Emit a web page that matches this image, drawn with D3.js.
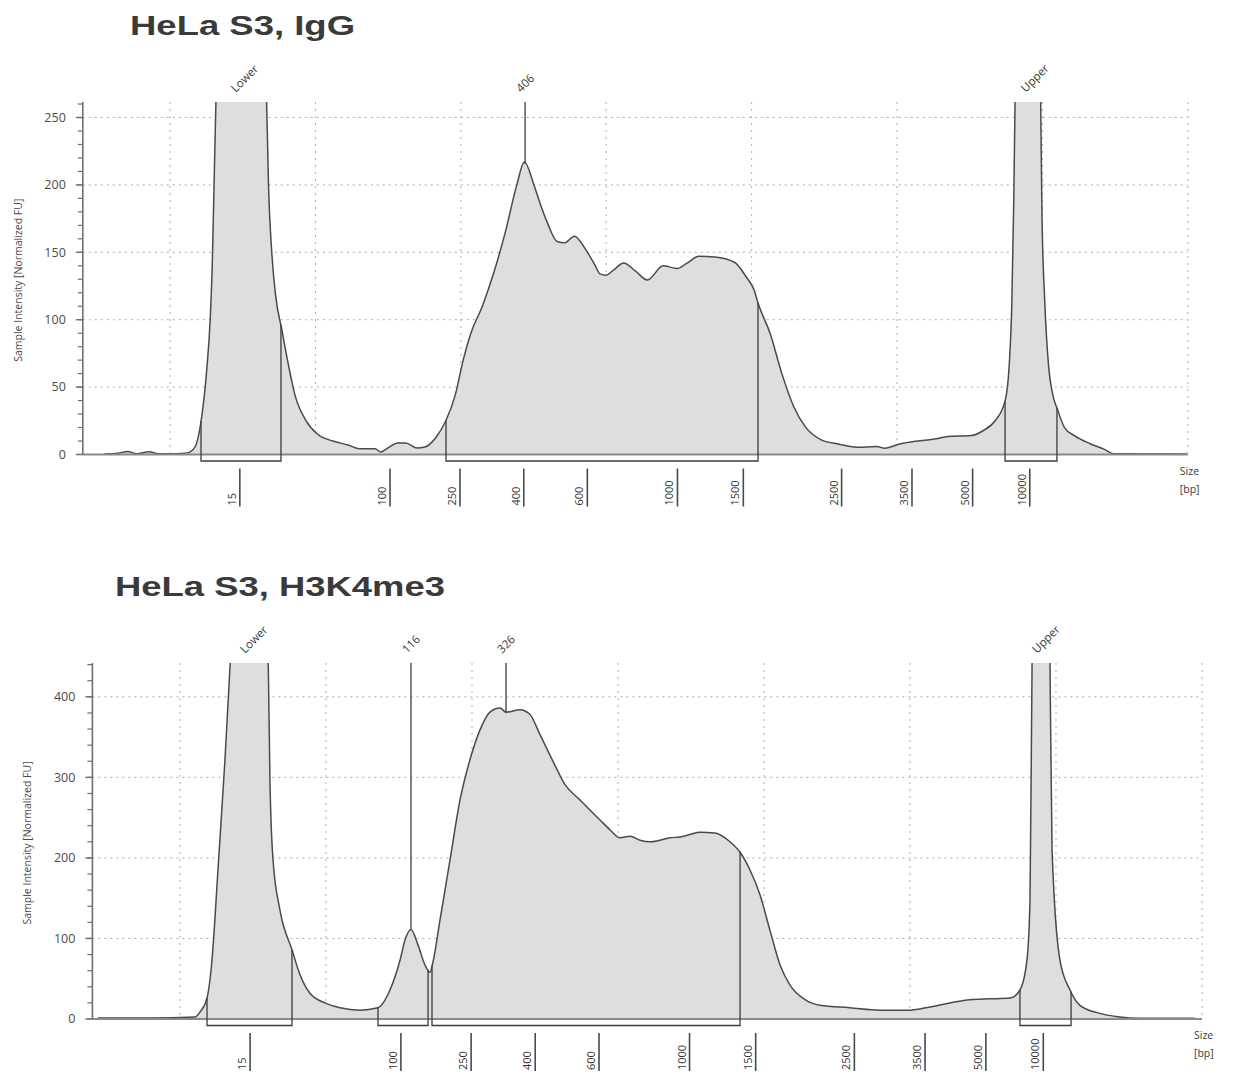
<!DOCTYPE html>
<html><head><meta charset="utf-8">
<script src="https://cdn.jsdelivr.net/npm/d3@7"></script>
<style>body{margin:0;background:#fff} svg{display:block}</style>
</head><body>
<svg id="c" width="1233" height="1074"></svg>
<script>
// Ladder (size standard) in bp and its migration position (run units)
const ladderSizes = [15, 100, 250, 400, 600, 1000, 1500, 2500, 3500, 5000, 10000];
const ladderMigration = [4.8, 15.13, 19.94, 24.33, 28.7, 34.9, 39.43, 46.19, 51.03, 55.2, 59.13];
const gridMigration = [0, 10, 20, 30, 40, 50, 60, 70];

// HeLa S3, IgG trace: [migration, intensity FU]
const iggTrace = [[-4.5,0.5],[-3.6,1],[-2.9,2.2],[-2.3,0.6],[-1.44,2],[-0.8,0.6],[0.4,0.6],[1.19,1.2],[1.71,5.5],[2.11,23],[2.5,60],[2.77,102],[2.9,139],[3.03,201],[3.16,263],[4.9,600],[6.64,263],[6.77,201],[6.99,151],[7.25,119],[7.7,92],[8.17,65],[8.57,45],[9.36,25],[10.15,15],[11.2,10],[12.25,7],[13.04,4.2],[14.1,4.2],[14.5,1.8],[14.89,4.2],[15.68,8.5],[16.21,8.5],[17.0,4.8],[17.52,5.5],[18.31,13],[18.97,25],[19.64,45],[20.16,70],[20.69,90],[21.48,110],[22.27,135],[23.06,165],[23.85,200],[24.37,217],[25.03,200],[25.43,187],[25.95,172],[26.62,158],[27.14,157],[27.81,162],[28.59,152],[29.25,140],[29.57,134],[29.98,133],[30.52,137],[31.2,142],[32.02,136],[32.83,129.5],[33.92,140],[34.88,138],[35.56,142],[36.37,147],[37.46,146.5],[38.82,142.6],[39.63,131.7],[40.18,121.8],[40.45,112],[41.27,90],[42.08,60],[42.9,35.4],[43.71,20.3],[44.79,10.9],[45.89,7.9],[47.24,5.4],[48.6,5.9],[49.15,4.7],[50.23,7.9],[51.32,9.9],[52.68,11.6],[53.49,13.4],[55.12,14.1],[55.94,17.8],[56.76,25.2],[57.44,40],[57.71,65],[57.9,114],[58.03,189],[58.12,263],[59.0,700],[59.88,263],[59.97,178],[60.16,114],[60.43,65],[60.7,45],[61.05,33],[61.52,20],[62.2,14],[63.28,8],[64.23,4],[64.91,0.5],[69.94,0.3]];
const iggRegions = [[2.13, 7.63], [18.98, 40.44], [57.43, 61.0]];
const iggPeakLabels = ["Lower", "406", "Upper"];
const iggPeakMigration = [4.8, 24.42, 59.13];
const iggPeakLine = [false, true, false];
const iggYTicks = [0, 50, 100, 150, 200, 250];

// HeLa S3, H3K4me3 trace
const h3Trace = [[-5.62,1.2],[-2.05,1.2],[1.03,2.5],[1.37,8.7],[1.85,26],[2.19,73],[2.6,185],[3.08,322],[3.49,460],[4.73,900],[6.03,460],[6.16,297],[6.37,198],[6.85,135],[7.67,86],[8.22,55],[8.9,32],[9.93,20],[10.96,14],[12.33,11],[13.56,14],[14.38,36],[15.07,73],[15.41,98],[15.82,111],[16.3,92],[16.78,67],[17.12,58],[17.33,71],[17.81,123],[18.49,197],[19.18,272],[19.86,322],[20.55,359],[21.23,381],[21.92,386],[22.33,381],[23.29,384],[23.97,378],[24.66,353],[25.68,315],[26.37,291],[27.4,272],[28.77,247],[29.45,235],[30.14,225],[30.82,227],[31.51,222],[32.19,220],[32.88,222],[33.56,225],[34.25,226],[34.93,229],[35.62,232],[36.64,231],[37.67,220],[38.36,207],[39.04,185],[39.73,154],[40.41,110],[41.1,67],[41.78,42],[42.81,24],[43.84,17],[45.89,14],[47.95,11],[50.0,11],[51.37,15],[52.74,20],[54.11,24],[55.48,25],[56.85,26],[57.53,36],[58.01,73],[58.22,148],[58.36,440],[58.97,900],[59.59,440],[59.73,210],[60.27,73],[60.96,36],[61.64,17],[63.01,7],[64.38,2.5],[65.75,1],[69.5,1]];
const h3Regions = [[1.85, 7.67], [13.56, 16.99], [17.26, 38.36], [57.53, 61.03]];
const h3PeakLabels = ["Lower", "116", "326", "Upper"];
const h3PeakMigration = [4.73, 15.82, 22.33, 58.97];
const h3PeakLine = [false, true, true, false];
const h3YTicks = [0, 100, 200, 300, 400];

const panels = [
  {title: "HeLa S3, IgG", titleX: 130, titleY: 35, titleW: 225,
   left: 82.8, right: 1187.8, zeroY: 454.5, topY: 102, yMax: 261.5, minorStep: 10,
   trace: iggTrace, regions: iggRegions, labels: iggPeakLabels, peaks: iggPeakMigration, lines: iggPeakLine,
   yTicks: iggYTicks, axTitleX: 18},
  {title: "HeLa S3, H3K4me3", titleX: 115, titleY: 596, titleW: 330,
   left: 92.4, right: 1202, zeroY: 1019, topY: 663, yMax: 442, minorStep: 20,
   trace: h3Trace, regions: h3Regions, labels: h3PeakLabels, peaks: h3PeakMigration, lines: h3PeakLine,
   yTicks: h3YTicks, axTitleX: 27}
];

const svg = d3.select("#c");
const FONT = "'Open Sans', 'DejaVu Sans', sans-serif";

function valueAt(trace, m) {
  const i = d3.bisector(d => d[0]).left(trace, m);
  if (i <= 0) return trace[0][1];
  if (i >= trace.length) return trace[trace.length - 1][1];
  const a = trace[i - 1], b = trace[i];
  return a[1] + (b[1] - a[1]) * (m - a[0]) / (b[0] - a[0]);
}

panels.forEach((p, idx) => {
  const x = d3.scaleLinear().domain([-6, 70]).range([p.left, p.right]);
  const y = d3.scaleLinear().domain([0, p.yMax]).range([p.zeroY, p.topY]);
  const g = svg.append("g");

  // title
  g.append("text").attr("x", p.titleX).attr("y", p.titleY)
    .attr("font-family", "'Liberation Sans', Arial, sans-serif").attr("font-weight", "bold")
    .attr("font-size", 28).attr("fill", "#3a3a3a")
    .attr("textLength", p.titleW).attr("lengthAdjust", "spacingAndGlyphs")
    .text(p.title);

  // horizontal grid
  g.selectAll(".hg").data(p.yTicks.filter(d => d > 0)).join("line")
    .attr("x1", p.left).attr("x2", p.right).attr("y1", d => y(d)).attr("y2", d => y(d))
    .attr("stroke", "#adadad").attr("stroke-width", 1).attr("stroke-dasharray", "2,4");
  // vertical grid
  g.selectAll(".vg").data(gridMigration).join("line")
    .attr("x1", d => x(d)).attr("x2", d => x(d)).attr("y1", p.topY).attr("y2", p.zeroY)
    .attr("stroke", "#adadad").attr("stroke-width", 1).attr("stroke-dasharray", "2,5");

  // clip
  const cid = "clip" + idx;
  svg.append("clipPath").attr("id", cid).append("rect")
    .attr("x", p.left).attr("y", p.topY).attr("width", p.right - p.left).attr("height", p.zeroY - p.topY + 1);

  const area = d3.area().x(d => x(d[0])).y0(y(0)).y1(d => y(d[1])).curve(d3.curveMonotoneX);
  const line = d3.line().x(d => x(d[0])).y(d => y(d[1])).curve(d3.curveMonotoneX);
  const pg = g.append("g").attr("clip-path", `url(#${cid})`);
  pg.append("path").datum(p.trace).attr("d", area).attr("fill", "#dedede");

  // x baseline
  g.append("line").attr("x1", p.left).attr("x2", p.right).attr("y1", y(0)).attr("y2", y(0))
    .attr("stroke", "#8a8a8a").attr("stroke-width", 2);

  pg.append("path").datum(p.trace).attr("d", line).attr("fill", "none")
    .attr("stroke", "#4a4a4a").attr("stroke-width", 1.5);

  // region boxes
  const boxBottom = y(0) + 6.5;
  g.selectAll(".rb").data(p.regions).join("path")
    .attr("d", r => `M${x(r[0])},${y(Math.min(valueAt(p.trace, r[0]), p.yMax))}V${boxBottom}H${x(r[1])}V${y(Math.min(valueAt(p.trace, r[1]), p.yMax))}`)
    .attr("fill", "none").attr("stroke", "#3c3c3c").attr("stroke-width", 1.3);

  // peak lines
  p.peaks.forEach((m, i) => {
    if (p.lines[i]) {
      g.append("line").attr("x1", x(m)).attr("x2", x(m))
        .attr("y1", y(valueAt(p.trace, m))).attr("y2", p.topY)
        .attr("stroke", "#3c3c3c").attr("stroke-width", 1.3);
    }
    g.append("text")
      .attr("transform", `translate(${x(m) - 4},${p.topY - 9}) rotate(-45)`)
      .attr("font-family", FONT).attr("font-size", 11.5).attr("fill", "#3a3a3a")
      .text(p.labels[i]);
  });

  // y axis
  g.append("line").attr("x1", p.left).attr("x2", p.left).attr("y1", p.topY).attr("y2", y(0))
    .attr("stroke", "#707070").attr("stroke-width", 1.6);
  const minor = d3.range(0, p.yMax, p.minorStep);
  g.selectAll(".mt").data(minor).join("line")
    .attr("x1", p.left - 5).attr("x2", p.left).attr("y1", d => y(d)).attr("y2", d => y(d))
    .attr("stroke", "#707070").attr("stroke-width", 1.2);
  g.selectAll(".Mt").data(p.yTicks).join("line")
    .attr("x1", p.left - 7).attr("x2", p.left).attr("y1", d => y(d)).attr("y2", d => y(d))
    .attr("stroke", "#707070").attr("stroke-width", 1.4);
  g.selectAll(".yl").data(p.yTicks).join("text")
    .attr("x", p.left - 17).attr("y", d => y(d)).attr("dy", "0.35em")
    .attr("text-anchor", "end").attr("font-family", FONT).attr("font-size", 12.5).attr("fill", "#4a4a4a")
    .text(d => d);
  g.append("text")
    .attr("transform", `translate(${p.axTitleX},${(p.topY + p.zeroY) / 2 + 2}) rotate(-90)`)
    .attr("text-anchor", "middle").attr("dy", "0.35em")
    .attr("font-family", FONT).attr("font-size", 10.5).attr("fill", "#4a4a4a")
    .text("Sample Intensity [Normalized FU]");

  // ladder size labels
  const lTop = y(0) + 14, lBot = y(0) + 52;
  ladderSizes.forEach((s, i) => {
    const lx = x(ladderMigration[i]);
    g.append("line").attr("x1", lx).attr("x2", lx).attr("y1", lTop).attr("y2", lBot)
      .attr("stroke", "#4a4a4a").attr("stroke-width", 1.6);
    g.append("text")
      .attr("transform", `translate(${lx - 4},${lBot - 1}) rotate(-90)`)
      .attr("font-family", FONT).attr("font-size", 11).attr("fill", "#333")
      .text(s);
  });
  g.append("text").attr("x", p.right - 8).attr("y", y(0) + 20)
    .attr("font-family", FONT).attr("font-size", 10.5).attr("fill", "#3a3a3a").text("Size");
  g.append("text").attr("x", p.right - 8).attr("y", y(0) + 38)
    .attr("font-family", FONT).attr("font-size", 10.5).attr("fill", "#3a3a3a").text("[bp]");
});
</script>
</body></html>
